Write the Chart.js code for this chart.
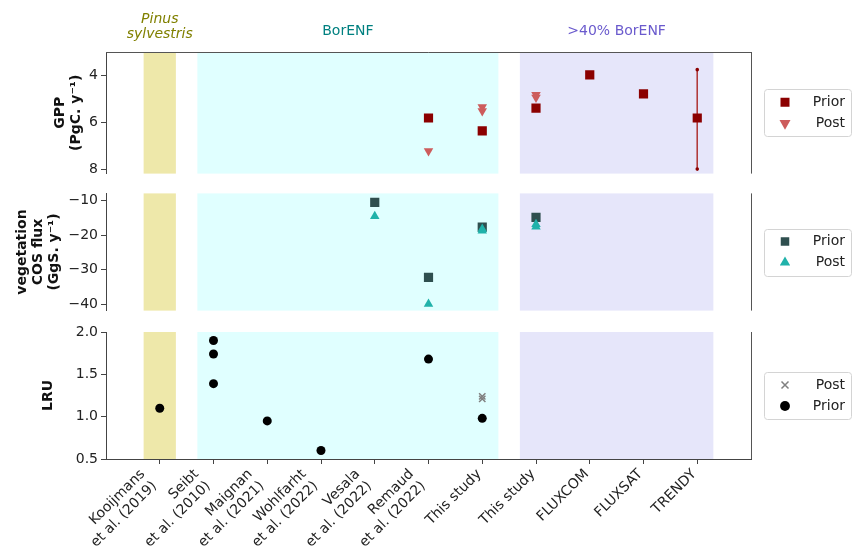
<!DOCTYPE html>
<html>
<head>
<meta charset="utf-8">
<script src="https://cdn.jsdelivr.net/npm/chart.js@4.4.1/dist/chart.umd.min.js"></script>
<style>
  html, body { margin: 0; padding: 0; background: #fff; }
  #wrap { position: relative; width: 852px; height: 550px; background: #fff; }
  #wrap canvas { position: absolute; left: 0; }
</style>
</head>
<body>
<div id="wrap">
  <canvas id="gppChart" width="852" height="185" style="top:0"></canvas>
  <canvas id="cosChart" width="852" height="140" style="top:182px"></canvas>
  <canvas id="lruChart" width="852" height="230" style="top:320px"></canvas>
</div>
<script>
// categories on the shared x axis
const studies = [['Kooijmans', 'et al. (2019)'], ['Seibt', 'et al. (2010)'], ['Maignan', 'et al. (2021)'],
  ['Wohlfarht', 'et al. (2022)'], ['Vesala', 'et al. (2022)'], ['Remaud', 'et al. (2022)'],
  'This study', 'This study', 'FLUXCOM', 'FLUXSAT', 'TRENDY'];

// shaded groups, in category units
const groupNames = [['Pinus', 'sylvestris'], ['BorENF'], ['>40% BorENF']];
const groupFrom = [-0.3, 0.7, 6.7];
const groupTo = [0.3, 6.3, 10.3];
const groupFill = ['#eee8aa', '#e0ffff', '#e6e6fa'];
const groupText = ['#808000', '#008080', '#6a5acd'];

// GPP (PgC/yr)
const gppPriorX = [5, 6, 7, 8, 9, 10];
const gppPrior = [5.8, 6.35, 5.38, 3.97, 4.78, 5.8];
const gppPostX = [5, 6, 6, 7, 7];
const gppPost = [7.2, 5.33, 5.5, 4.81, 4.93];
const trendyRange = [3.75, 7.97];
const gppTicks = [4, 6, 8];

// vegetation COS flux (GgS/yr)
const cosPriorX = [4, 5, 6, 7];
const cosPrior = [-10.6, -32.2, -17.7, -14.9];
const cosPostX = [4, 5, 6, 6, 7, 7];
const cosPost = [-14.6, -39.9, -18.3, -18.8, -16.9, -17.6];
const cosTicks = [-10, -20, -30, -40];

// LRU
const lruPostX = [6, 6];
const lruPost = [1.21, 1.24];
const lruPriorX = [0, 1, 1, 1, 2, 3, 5, 6];
const lruPrior = [1.10, 1.90, 1.74, 1.39, 0.95, 0.60, 1.68, 0.98];
const lruTicks = [0.5, 1.0, 1.5, 2.0];

const FONT = 'DejaVu Sans';
Chart.defaults.font.family = FONT;
Chart.defaults.font.size = 14;
Chart.defaults.color = '#222';

const LEGEND_W = 101;   // space kept right of the plots
const LEGEND_GAP = 20;  // gap between plot edge and legend items
const LEGEND_TRIM = 7;  // legend text ends this far from the canvas edge

const pts = (xs, ys) => xs.map((x, i) => ({ x, y: ys[i] }));
const fmt = v => String(v).replace('-', '\u2212');

// shaded columns behind the points
const groupBands = {
    id: 'groupBands',
    beforeDatasetsDraw(chart) {
        const { ctx, chartArea: a, scales: { x } } = chart;
        ctx.save();
        groupFrom.forEach((from, i) => {
            const l = x.getPixelForValue(from), r = x.getPixelForValue(groupTo[i]);
            ctx.fillStyle = groupFill[i];
            ctx.fillRect(l, a.top, r - l, a.bottom - a.top);
        });
        ctx.restore();
    }
};

// right spine (and top spine for the first panel), plus the legend frame
const frame = {
    id: 'frame',
    afterDraw(chart, args, opts) {
        const { ctx, chartArea: a } = chart;
        ctx.save();
        ctx.strokeStyle = '#555';
        ctx.lineWidth = 1;
        ctx.beginPath();
        ctx.moveTo(a.right + 0.5, a.top);
        ctx.lineTo(a.right + 0.5, a.bottom);
        if (opts.top) {
            ctx.moveTo(a.left, a.top + 0.5);
            ctx.lineTo(a.right + 0.5, a.top + 0.5);
        }
        ctx.stroke();

        const lg = chart.legend;
        const hb = lg.legendHitBoxes;
        if (hb && hb.length) {
            const l = Math.min(...hb.map(b => b.left)) - 14;
            const r = lg.right + 6;
            const t = hb[0].top - 6;
            const b = hb[hb.length - 1].top + hb[hb.length - 1].height + 6;
            ctx.strokeStyle = '#d4d4d4';
            ctx.beginPath();
            ctx.roundRect(Math.round(l) + 0.5, Math.round(t) + 0.5, r - l, b - t, 3);
            ctx.stroke();
        }
        ctx.restore();
    }
};

// group names above the top panel
const groupHeaders = {
    id: 'groupHeaders',
    afterDraw(chart) {
        const { ctx, chartArea: a, scales: { x } } = chart;
        ctx.save();
        ctx.textAlign = 'center';
        ctx.textBaseline = 'alphabetic';
        groupNames.forEach((lines, i) => {
            const cx = x.getPixelForValue((groupFrom[i] + groupTo[i]) / 2);
            const base = a.top - (lines.length > 1 ? 14 : 17);
            ctx.fillStyle = groupText[i];
            ctx.font = (i === 0 ? 'italic ' : '') + '14px "' + FONT + '"';
            lines.forEach((txt, j) => {
                ctx.fillText(txt, cx, base - (lines.length - 1 - j) * 15);
            });
        });
        ctx.restore();
    }
};

// fixed legend slot so every panel shares the same plot width
const legendSlot = {
    id: 'legendSlot',
    beforeInit(chart) {
        const fit = chart.legend.fit;
        chart.legend.fit = function () { fit.call(this); this.width = LEGEND_W; };
    },
    afterLayout(chart) {
        chart.legend.left += LEGEND_GAP;
        chart.legend.right -= LEGEND_TRIM;
    }
};

// anchor the whole rotated label block at the tick, as matplotlib does
const tickShift = {
    id: 'tickShift',
    beforeDraw(chart) {
        const items = chart.scales.x.getLabelItems();
        if (items._shifted) return;
        items.forEach(it => {
            it.options.translation[0] -= Array.isArray(it.label) ? 17 : 3;
        });
        items._shifted = true;
    }
};

function xScale(show) {
    return {
        type: 'linear', min: -1, max: 11, display: show,
        afterBuildTicks: s => { s.ticks = studies.map((_, i) => ({ value: i })); },
        afterFit: s => { if (show) s.height = 91; },
        ticks: {
            autoSkip: false, minRotation: 45, maxRotation: 45, padding: 2,
            font: { size: 14 }, color: '#222',
            callback: v => studies[v]
        },
        grid: { drawOnChartArea: false, tickLength: 5, color: '#444' },
        border: { color: '#444' }
    };
}

function yScale(opts) {
    return {
        type: 'linear', min: opts.min, max: opts.max, reverse: !!opts.reverse,
        afterBuildTicks: s => { s.ticks = opts.ticks.map(v => ({ value: v })); },
        afterFit: s => { s.width = opts.width; },
        ticks: { font: { size: 14 }, color: '#222', padding: 3, callback: opts.label },
        grid: { drawOnChartArea: false, tickLength: 5, color: '#444' },
        border: { color: '#444' },
        title: {
            display: true, text: opts.title, color: '#111', padding: 0,
            font: { size: 14, weight: 'bold', lineHeight: 1.15 }
        }
    };
}

function baseOptions(o) {
    return {
        responsive: false,
        animation: false,
        events: [],
        layout: { padding: o.padding },
        scales: { x: xScale(o.showX), y: o.y },
        plugins: {
            tooltip: { enabled: false },
            title: { display: false },
            frame: { top: !!o.top },
            legend: {
                position: 'right', fullSize: false, align: 'center',
                labels: {
                    usePointStyle: true, boxHeight: o.marker, padding: 7, textAlign: 'right',
                    font: { size: 14 }, color: '#222',
                    filter: item => item.text !== '',
                    sort: (a, b) => a.datasetIndex - b.datasetIndex
                }
            }
        }
    };
}

new Chart(document.getElementById('gppChart'), {
    type: 'scatter',
    data: {
        datasets: [
            { label: 'Prior', data: pts(gppPriorX, gppPrior), pointStyle: 'rect', pointRadius: 6.5,
              backgroundColor: '#8b0000', borderColor: '#8b0000', borderWidth: 0, order: 2 },
            { label: 'Post', data: pts(gppPostX, gppPost), pointStyle: 'triangle', rotation: 180, pointRadius: 5.5,
              backgroundColor: '#cd5c5c', borderColor: '#cd5c5c', borderWidth: 0, order: 1 },
            { label: '', type: 'line', data: pts([10, 10], trendyRange), showLine: true,
              borderColor: '#b03a3a', borderWidth: 1, pointStyle: 'circle', pointRadius: 1.8,
              backgroundColor: '#8b0000', pointBorderWidth: 0, order: 3 }
        ]
    },
    options: baseOptions({
        padding: { left: 52, top: 52, bottom: 6, right: 0 }, showX: false, top: true, marker: 9,
        y: yScale({ min: 3.0, max: 8.16, reverse: true, ticks: gppTicks, width: 54,
                    label: v => fmt(v), title: ['GPP', '(PgC. y\u207B\u00B9)'] })
    }),
    plugins: [groupBands, frame, groupHeaders, legendSlot]
});

new Chart(document.getElementById('cosChart'), {
    type: 'scatter',
    data: {
        datasets: [
            { label: 'Prior', data: pts(cosPriorX, cosPrior), pointStyle: 'rect', pointRadius: 6.5,
              backgroundColor: '#2f4f4f', borderColor: '#2f4f4f', borderWidth: 0, order: 2 },
            { label: 'Post', data: pts(cosPostX, cosPost), pointStyle: 'triangle', pointRadius: 5.5,
              backgroundColor: '#20b2aa', borderColor: '#20b2aa', borderWidth: 0, order: 1 }
        ]
    },
    options: baseOptions({
        padding: { left: 14, top: 10, bottom: 4, right: 0 }, showX: false, marker: 8.5,
        y: yScale({ min: -41.8, max: -8.0, ticks: cosTicks, width: 92,
                    label: v => fmt(v), title: ['vegetation', 'COS flux', '(GgS. y\u207B\u00B9)'] })
    }),
    plugins: [groupBands, frame, legendSlot]
});

new Chart(document.getElementById('lruChart'), {
    type: 'scatter',
    data: {
        datasets: [
            { label: 'Post', data: pts(lruPostX, lruPost), pointStyle: 'crossRot', pointRadius: 4.5,
              backgroundColor: '#808080', borderColor: '#808080', borderWidth: 1.5 },
            { label: 'Prior', data: pts(lruPriorX, lruPrior), pointStyle: 'circle', pointRadius: 4.5,
              backgroundColor: '#000', borderColor: '#000', borderWidth: 0 }
        ]
    },
    options: baseOptions({
        padding: { left: 40, top: 12, bottom: 0, right: 0 }, showX: true, marker: 7,
        y: yScale({ min: 0.5, max: 2.0, ticks: lruTicks, width: 66,
                    label: v => v.toFixed(1), title: 'LRU' })
    }),
    plugins: [groupBands, frame, legendSlot, tickShift]
});
</script>
</body>
</html>
